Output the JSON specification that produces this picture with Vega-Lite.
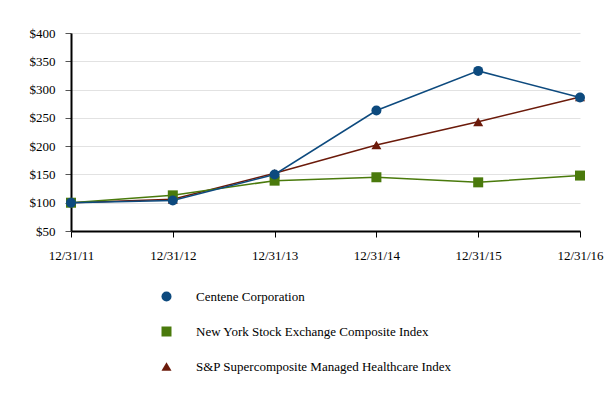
{
  "$schema": "https://vega.github.io/schema/vega-lite/v6.json",
  "autosize": "none",
  "width": 509,
  "height": 198,
  "padding": {"left": 71, "top": 33, "right": 33, "bottom": 169},
  "background": "white",
  "config": {
    "font": "Liberation Serif",
    "view": {"stroke": null},
    "axis": {"labelFont": "Liberation Serif", "labelFontSize": 13, "labelColor": "#000000", "title": null},
    "legend": {"labelFont": "Liberation Serif", "labelFontSize": 13, "labelColor": "#000000", "labelLimit": 500}
  },
  "data": {
    "values": [
      {"date": "12/31/11", "series": "S&P Supercomposite Managed Healthcare Index", "value": 100},
      {"date": "12/31/12", "series": "S&P Supercomposite Managed Healthcare Index", "value": 106},
      {"date": "12/31/13", "series": "S&P Supercomposite Managed Healthcare Index", "value": 152},
      {"date": "12/31/14", "series": "S&P Supercomposite Managed Healthcare Index", "value": 202},
      {"date": "12/31/15", "series": "S&P Supercomposite Managed Healthcare Index", "value": 243},
      {"date": "12/31/16", "series": "S&P Supercomposite Managed Healthcare Index", "value": 287},
      {"date": "12/31/11", "series": "New York Stock Exchange Composite Index", "value": 100},
      {"date": "12/31/12", "series": "New York Stock Exchange Composite Index", "value": 113},
      {"date": "12/31/13", "series": "New York Stock Exchange Composite Index", "value": 139},
      {"date": "12/31/14", "series": "New York Stock Exchange Composite Index", "value": 145},
      {"date": "12/31/15", "series": "New York Stock Exchange Composite Index", "value": 136},
      {"date": "12/31/16", "series": "New York Stock Exchange Composite Index", "value": 148},
      {"date": "12/31/11", "series": "Centene Corporation", "value": 100},
      {"date": "12/31/12", "series": "Centene Corporation", "value": 104},
      {"date": "12/31/13", "series": "Centene Corporation", "value": 150},
      {"date": "12/31/14", "series": "Centene Corporation", "value": 263},
      {"date": "12/31/15", "series": "Centene Corporation", "value": 333},
      {"date": "12/31/16", "series": "Centene Corporation", "value": 286}
    ]
  },
  "encoding": {
    "x": {
      "field": "date", "type": "ordinal",
      "scale": {"type": "point", "padding": 0},
      "axis": {"labelAngle": 0, "domainColor": "#000000", "domainWidth": 2, "tickColor": "#000000", "tickSize": 6, "labelPadding": 12, "grid": false}
    },
    "y": {
      "field": "value", "type": "quantitative",
      "scale": {"domain": [50, 400], "nice": false, "zero": false},
      "axis": {"values": [50, 100, 150, 200, 250, 300, 350, 400], "format": "$.0f", "domainColor": "#000000", "domainWidth": 2, "tickColor": "#555555", "tickSize": 6, "labelPadding": 10, "gridColor": "#e2e2e2", "gridWidth": 1}
    },
    "color": {
      "field": "series", "type": "nominal",
      "scale": {
        "domain": ["Centene Corporation", "New York Stock Exchange Composite Index", "S&P Supercomposite Managed Healthcare Index"],
        "range": ["#0d4a7e", "#4a7a0c", "#6b1a0a"]
      },
      "legend": {
        "title": null, "orient": "none", "legendX": 89, "legendY": 257, "padding": 0,
        "rowPadding": 21, "labelOffset": 23, "symbolSize": 100, "symbolStrokeWidth": 0,
        "labelFont": "Liberation Serif", "labelFontSize": 13, "labelLimit": 500, "labelColor": "#000000"
      }
    }
  },
  "layer": [
    {"mark": {"type": "line", "strokeWidth": 1.5}},
    {
      "mark": {"type": "point", "filled": true, "opacity": 1, "size": 100},
      "encoding": {
        "shape": {
          "field": "series", "type": "nominal",
          "scale": {
            "domain": ["Centene Corporation", "New York Stock Exchange Composite Index", "S&P Supercomposite Managed Healthcare Index"],
            "range": ["circle", "square", "triangle-up"]
          },
          "legend": {
            "title": null, "orient": "none", "legendX": 89, "legendY": 257, "padding": 0,
            "rowPadding": 21, "labelOffset": 23, "symbolSize": 100, "symbolStrokeWidth": 0,
            "labelFont": "Liberation Serif", "labelFontSize": 13, "labelLimit": 500, "labelColor": "#000000"
          }
        }
      }
    }
  ]
}
